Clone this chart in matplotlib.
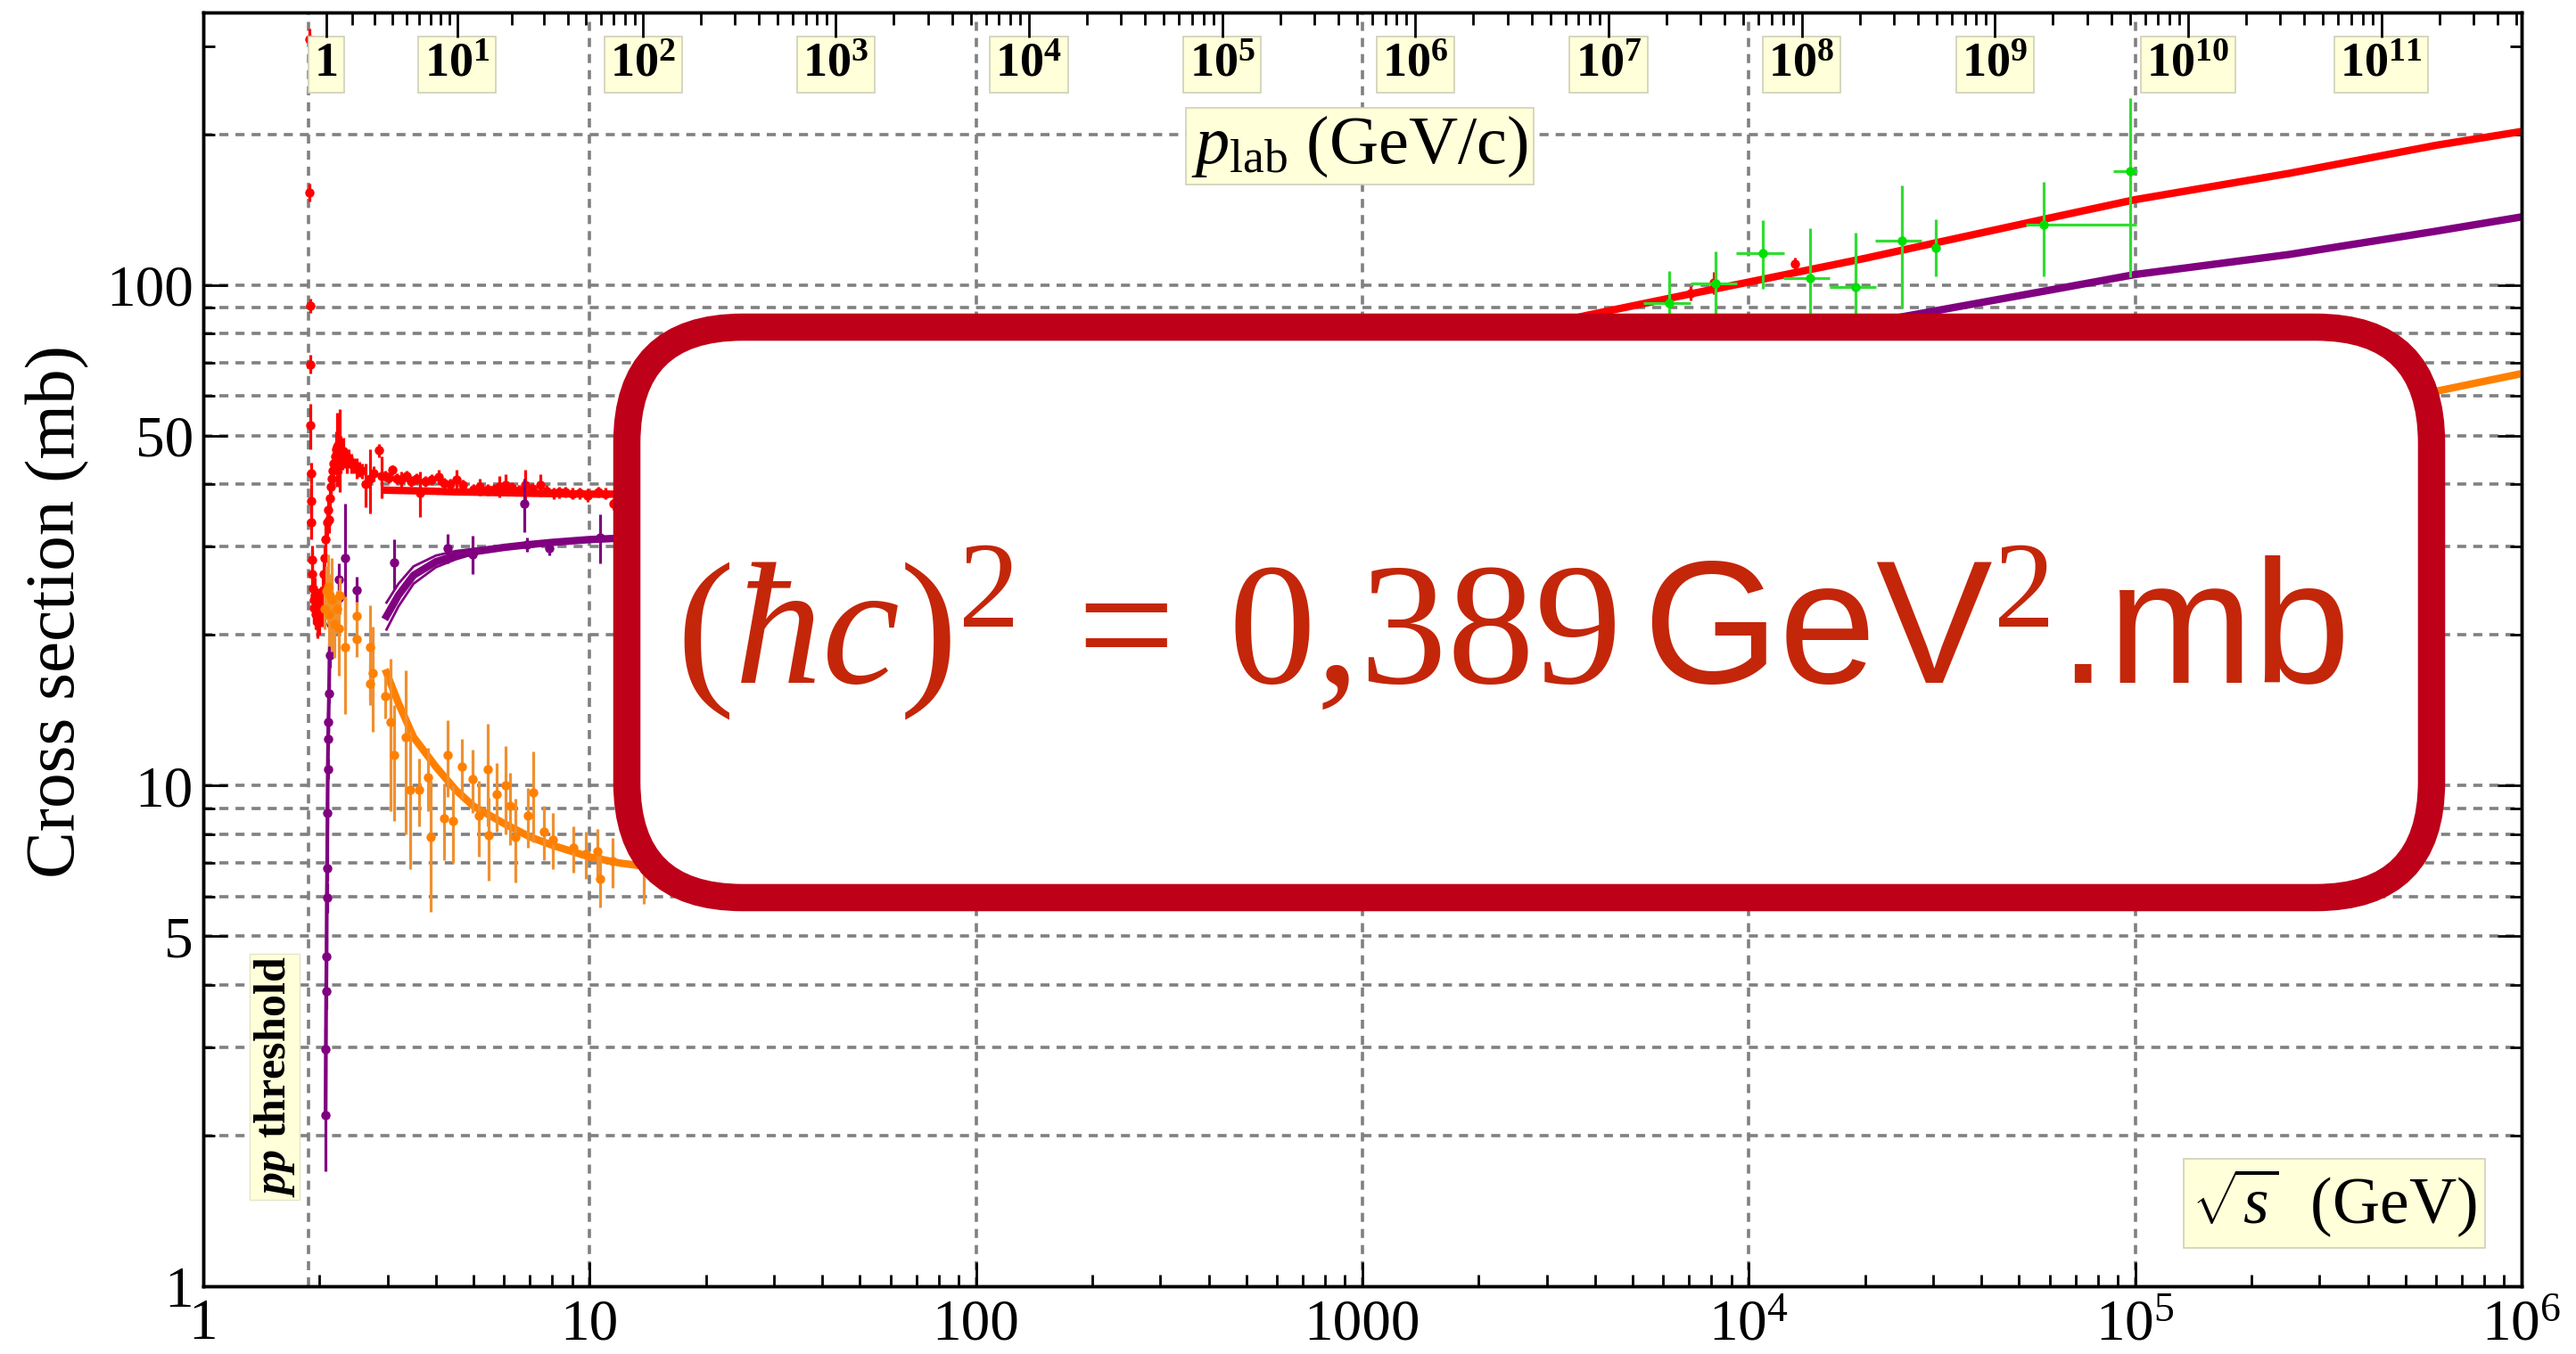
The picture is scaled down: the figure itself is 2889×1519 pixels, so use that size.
import numpy as np
import matplotlib
matplotlib.use('Agg')
import matplotlib.pyplot as plt
from matplotlib.ticker import FixedLocator, FixedFormatter, NullFormatter
from matplotlib.patches import FancyBboxPatch

plt.rcParams.update({
    'font.family': ['Liberation Serif', 'DejaVu Serif'],
    'mathtext.fontset': 'custom',
    'mathtext.rm': 'Liberation Serif',
    'mathtext.it': 'Liberation Serif:italic',
    'mathtext.bf': 'Liberation Serif:bold',
    'mathtext.sf': 'Liberation Sans',
    'mathtext.cal': 'Liberation Serif:italic:bold',
})

# ---------------- data ----------------
# pp total cross section, low energy (sqrt(s) GeV, mb, err)
red_x = [1.881, 1.884, 1.890, 1.893, 1.897, 1.900, 1.903, 1.906, 1.910, 1.915, 1.921, 1.928,
         1.936, 1.945, 1.955, 1.966, 1.977, 1.988, 2.000, 2.012, 2.025, 2.038, 2.050, 2.062,
         2.075, 2.088, 2.100, 2.113, 2.125, 2.138, 2.150, 2.163, 2.176, 2.190, 2.205, 2.220,
         2.235, 2.250, 2.268, 2.285, 2.305, 2.325, 2.350, 2.378, 2.410, 2.45, 2.49, 2.53,
         2.58, 2.63, 2.707, 2.76, 2.855, 2.90, 2.95, 3.02, 3.09, 3.17, 3.25, 3.35, 3.45,
         3.57, 3.63, 3.75, 3.9, 4.07, 4.2, 4.35, 4.53, 4.7, 5.0, 5.2, 5.45, 5.65, 5.85,
         6.07, 6.3, 6.55, 6.81, 7.1, 7.45, 7.75, 8.07, 8.35, 8.66, 9.0, 9.4, 9.9, 10.5,
         11.0, 11.5]
red_y = [310, 153, 91, 69.4, 52.4, 42.1, 37.0, 33.6, 28.2, 26.5, 24.8, 23.5,
         22.6, 24.0, 22.0, 22.5, 21.2, 22.8, 21.5, 23.5, 22.8, 24.5, 26.5, 28.5,
         31.0, 33.5, 35.5, 34.0, 37.5, 39.5, 41.0, 42.5, 44.0, 45.5, 47.0, 47.5,
         46.5, 47.5, 46.0, 45.8, 46.5, 45.0, 44.5, 45.0, 44.0, 43.5, 43.0, 42.8,
         42.5, 40.0, 41.0, 42.0, 46.7, 41.5, 41.5, 41.2, 42.7, 41.0, 40.8, 41.5, 40.5,
         41.0, 38.4, 40.5, 40.8, 41.3, 40.2, 40.0, 40.8, 39.8, 39.1, 39.5, 39.0, 39.1, 39.6,
         39.9, 39.3, 38.9, 39.8, 39.2, 39.8, 38.8, 38.4, 38.5, 38.6, 38.3, 38.4, 38.0, 38.6,
         38.3, 36.5]
red_err = [15, 6, 3, 3, 5.5, 2, 3, 2.5, 2, 3, 2, 2.5,
           1.5, 2, 1.5, 2, 1.5, 2, 1.5, 1.5, 2, 1.5, 2, 1.5,
           2, 2, 1.5, 2, 2, 2, 1.5, 2, 2.5, 3, 4, 8,
           5, 9, 4, 3, 3, 2, 2.5, 2, 2, 1.5, 2, 1.5,
           1.5, 4, 6, 1.5, 1.5, 4, 1, 1, 1, 1, 1.5, 1, 1,
           1, 4, 1, 1, 1.5, 1, 1, 2, 1, 1, 1.5, 1, 1, 2,
           2, 1, 1, 3, 1, 2, 1, 1, 1, 1, 1, 1, 1.2, 1,
           1, 1]

# pp total, LHC
red_hx = [7080, 8130, 13180]
red_hy = [96.3, 101.0, 110.0]
red_herr = [3.3, 5.0, 3.3]

# pp inelastic, low energy
pur_x = [2.072, 2.076, 2.080, 2.084, 2.088, 2.092, 2.096, 2.100, 2.104, 2.108, 2.115, 2.122,
         2.135, 2.150, 2.243, 2.243, 2.324, 2.494, 3.113, 4.282, 4.977, 6.785, 6.87, 7.86, 10.66]
pur_y = [2.2, 2.98, 3.88, 4.56, 5.97, 6.85, 8.8, 10.8, 12.4, 13.4, 15.3, 18.2,
         21.0, 23.5, 25.8, 23.7, 28.5, 24.6, 27.9, 29.8, 29.0, 36.6, 30.3, 29.8, 31.3]
pur_err = [0.5, 0.3, 0.3, 0.4, 0.4, 0.4, 0.5, 0.5, 0.6, 0.6, 0.7, 1.0,
           1.0, 1.5, 2.0, 2.0, 8.0, 1.5, 3.2, 2.0, 2.5, 4.5, 1.0, 1.0, 3.5]

# pp elastic, low energy
org_x = [2.06, 2.08, 2.10, 2.11, 2.13, 2.15, 2.18, 2.22, 2.243, 2.26, 2.324, 2.494, 2.494,
         2.70, 2.75, 2.70, 2.952, 3.057, 3.113, 3.342, 3.431, 3.618, 3.816, 3.884, 4.205,
         4.282, 4.436, 4.677, 4.977, 5.158, 5.44, 5.48, 5.737, 6.05, 6.21, 6.435, 6.91,
         7.157, 7.61, 8.03, 9.09, 9.76, 10.47, 10.66, 11.45, 13.79]
org_y = [22.5, 24.5, 25.0, 22.0, 24.0, 23.5, 21.0, 22.5, 20.6, 24.0, 18.9, 21.8, 19.6,
         18.9, 16.8, 16.0, 15.1, 13.4, 11.5, 12.5, 9.8, 9.8, 10.4, 7.9, 8.6,
         11.5, 8.5, 10.9, 10.3, 8.7, 10.8, 7.97, 9.6, 10.0, 9.1, 7.9, 8.7,
         9.7, 8.1, 7.8, 7.5, 7.3, 7.4, 6.5, 7.06, 6.8]
org_err = [2, 3, 4, 3, 2.5, 5, 3, 2, 4, 2, 5, 1.5, 1.5,
           4, 4, 1.5, 1.5, 4.5, 3, 4.5, 3, 1.5, 1.5, 2.3, 1.5,
           2, 1.5, 1.5, 1.5, 1.5, 2.5, 1.5, 1.5, 2, 1.5, 1.5, 1.2,
           2, 1, 1, 0.8, 0.8, 0.8, 0.8, 0.8, 1.0]

# cosmic-ray derived pp total cross sections
grn_x = [6231, 8185, 10870, 14390, 18900, 24950, 30500, 58100, 97200]
grn_y = [91.8, 100.7, 115.7, 103.0, 98.9, 122.7, 118.6, 131.7, 168.4]
grn_xlo = [911, 1135, 1600, 2090, 2700, 3750, 0, 6100, 9300]
grn_xhi = [819, 1115, 1460, 1810, 2430, 3050, 0, 42400, 3900]
grn_ylo = [15, 16, 17.5, 27, 28.5, 33, 14.4, 27.6, 65]
grn_yhi = [15, 16, 19, 27, 28.5, 35, 16.5, 29, 68]

# fits
fit_x = [2.98, 3.2, 3.5, 4, 4.5, 5, 6, 7, 8, 10, 12, 15, 20, 30, 50, 100, 200, 500, 1000,
         2000, 3800, 7000, 1e4, 2e4, 2.7e4, 6e4, 1e5, 2.5e5, 6e5, 1e6]
total_fit = [38.9, 38.85, 38.8, 38.7, 38.6, 38.55, 38.45, 38.35, 38.3, 38.2, 38.2, 38.3, 38.6,
             39.6, 41.5, 45.5, 51, 60, 68, 77.5, 86.9, 95.8, 101.3, 113, 118.9, 136, 148,
             167, 190, 202.5]
inel_fit = [21.8, 24.0, 26.3, 28.0, 28.8, 29.3, 29.9, 30.3, 30.6, 31.0, 31.2, 31.5, 32.0,
            32.7, 34.0, 36.5, 40.0, 46.5, 52.0, 58.0, 64.5, 71.0, 76.0, 83.7, 87.3, 97.6,
            104.9, 115.0, 128.0, 136.7]
el_fit = [16.8, 14.6, 12.5, 10.9, 9.8, 9.1, 8.4, 7.9, 7.6, 7.2, 7.0, 6.85, 6.8, 6.9, 7.4,
          8.5, 10.0, 13.0, 16.0, 19.5, 22.4, 24.8, 25.3, 29.3, 31.6, 38.4, 43.1, 52.0,
          61.3, 66.5]
# inelastic fit uncertainty band near its start
band_x = [2.98, 3.2, 3.5, 4, 4.5, 5, 6]
inel_hi = [23.2, 25.3, 27.4, 28.8, 29.4, 29.7, 30.1]
inel_lo = [20.5, 22.8, 25.3, 27.3, 28.3, 29.0, 29.7]

# axes ticks / labels
x_major = [1, 10, 100, 1000, 1e4, 1e5, 1e6]
x_labels = ['1', '10', '100', '1000', r'$10^{4}$', r'$10^{5}$', r'$10^{6}$']
y_major = [1, 5, 10, 50, 100]
y_labels = ['1', '5', '10', '50', '100']
y_minor = [2, 3, 4, 6, 7, 8, 9, 20, 30, 40, 60, 70, 80, 90, 200, 300]
grid_y = [2, 3, 4, 5, 6, 7, 8, 9, 10, 20, 30, 40, 50, 60, 70, 80, 90, 100, 200]
M_P = 0.938272
grid_x = [2 * M_P, 10, 100, 1000, 1e4, 1e5]
plab_major = [10.0 ** k for k in range(0, 12)]
plab_labels = ['1'] + [r'$\mathbf{10^{%d}}$' % k for k in range(1, 12)]


def sqrt_s(p):
    p = np.asarray(p, dtype=float)
    return np.sqrt(2 * M_P ** 2 + 2 * M_P * np.sqrt(p ** 2 + M_P ** 2))


plab_minor = [m * 10.0 ** k for k in range(0, 12) for m in range(2, 10)]
plab_minor = [p for p in plab_minor if sqrt_s(p) < 1e6]

# ---------------- figure ----------------
W, H = 2889, 1519
fig = plt.figure(figsize=(W / 100, H / 100), dpi=100)
ax = fig.add_axes([228 / W, 1 - 1443 / H, 2600 / W, 1429 / H])
ax.set_xscale('log')
ax.set_yscale('log')
ax.set_xlim(1, 1e6)
ax.set_ylim(1, 350)

gkw = dict(color='#808080', lw=2.6, ls=(0, (2.8, 2.2)), zorder=0.5)
for v in grid_y:
    ax.axhline(v, **gkw)
for v in grid_x:
    ax.axvline(v, **gkw)

RED, PUR, ORG = '#FF0000', '#800080', '#FF8000'
ekw = dict(fmt='o', ms=7.5, elinewidth=2.3, capsize=0, mew=0)

# fits
ax.plot(fit_x, inel_fit, color=PUR, lw=6, zorder=3)
ax.plot(band_x, inel_hi, color=PUR, lw=2, zorder=3)
ax.plot(band_x, inel_lo, color=PUR, lw=2, zorder=3)
ax.plot(fit_x, el_fit, color=ORG, lw=6, zorder=3)
ax.plot(fit_x, total_fit, color=RED, lw=6, zorder=3)

# data
ax.errorbar(red_x, red_y, yerr=red_err, color=RED, ecolor=RED, zorder=4, **ekw)
ax.errorbar(red_hx, red_hy, yerr=red_herr, color=RED, ecolor=RED, zorder=4, **ekw)
ax.plot(pur_x[:14], pur_y[:14], color=PUR, lw=3, zorder=5)
ax.errorbar(pur_x, pur_y, yerr=pur_err, color=PUR, ecolor=PUR, zorder=5, **ekw)
ax.errorbar(org_x, org_y, yerr=org_err, color=ORG, ecolor='#F09030', zorder=6, **ekw)
ax.errorbar(grn_x, grn_y, xerr=[grn_xlo, grn_xhi], yerr=[grn_ylo, grn_yhi],
            fmt='o', ms=7.5, mew=0, color='#00E000', ecolor='#30DD30', elinewidth=2.3,
            capsize=0, zorder=7)

for s in ax.spines.values():
    s.set_linewidth(2.5)
    s.set_color('black')

ax.xaxis.set_major_locator(FixedLocator(x_major))
ax.xaxis.set_major_formatter(FixedFormatter(x_labels))
ax.xaxis.set_minor_locator(FixedLocator([m * 10.0 ** k for k in range(0, 6) for m in range(2, 10)]))
ax.xaxis.set_minor_formatter(NullFormatter())
ax.yaxis.set_major_locator(FixedLocator(y_major))
ax.yaxis.set_major_formatter(FixedFormatter(y_labels))
ax.yaxis.set_minor_locator(FixedLocator(y_minor))
ax.yaxis.set_minor_formatter(NullFormatter())
ax.tick_params(axis='x', which='major', direction='in', length=19.5, width=2,
               labelsize=47, pad=10, top=False, bottom=True)
ax.tick_params(axis='x', which='minor', direction='in', length=9.5, width=2, top=False)
ax.tick_params(axis='y', which='major', direction='in', length=19.5, width=2,
               labelsize=47, pad=8, left=True, right=True)
ax.tick_params(axis='y', which='minor', direction='in', length=9.5, width=2,
               left=True, right=True)

# top p_lab axis
axt = ax.twiny()
axt.set_xscale('log')
axt.set_xlim(1, 1e6)
axt.xaxis.set_major_locator(FixedLocator(sqrt_s(plab_major)))
axt.xaxis.set_major_formatter(NullFormatter())
axt.xaxis.set_minor_locator(FixedLocator(sqrt_s(plab_minor)))
axt.xaxis.set_minor_formatter(NullFormatter())
axt.tick_params(axis='x', which='major', direction='in', length=20, width=2,
                top=True, bottom=False, labeltop=False)
axt.tick_params(axis='x', which='minor', direction='in', length=10, width=2,
                top=True, bottom=False)
for s in axt.spines.values():
    s.set_linewidth(2.5)

box_kw = dict(boxstyle='square,pad=0.12', fc='#FFFFD9', ec='#CFCFB8', lw=1.2)
ytop = (1443 - 72) / 1429
for p, lab in zip(plab_major, plab_labels):
    ax.text(float(sqrt_s(p)), ytop, lab, transform=ax.get_xaxis_transform(),
            ha='center', va='center', fontsize=39, fontweight='bold', bbox=box_kw,
            zorder=8)

fig.text(1525 / W, 1 - 164 / H, r'$p_{\mathrm{lab}}$ (GeV/c)', fontsize=55,
         ha='center', va='center', bbox=dict(boxstyle='square,pad=0.08', fc='#FFFFD9',
                                              ec='#CFCFB8', lw=1.2))
fig.text(2618 / W, 1 - 1350 / H, r'$\sqrt{s}$  (GeV)', fontsize=53,
         ha='center', va='center', bbox=dict(boxstyle='square,pad=0.12', fc='#FFFFD9',
                                              ec='#CFCFB8', lw=1.2))
fig.text(308 / W, 1 - 1208 / H, r'$\mathcal{pp}$ threshold', fontsize=36,
         fontweight='bold', rotation=90, ha='center', va='center',
         bbox=dict(boxstyle='square,pad=0.06', fc='#FFFFD9', ec='#E5E5C8', lw=1))
fig.text(64.5 / W, 1 - 686 / H, 'Cross section (mb)', rotation=90, fontsize=57,
         ha='center', va='center')

# overlay box
ov = fig.add_axes([0, 0, 1, 1])
ov.set_xlim(0, W)
ov.set_ylim(H, 0)
ov.axis('off')
ov.set_zorder(10)
ov.add_patch(FancyBboxPatch((703, 367), 2024, 640,
                            boxstyle='round,pad=0,rounding_size=130',
                            fc='white', ec='#BE0019', lw=22))
ov.text(1694, 766, r'$(\hbar c)^2\:=\:0{,}389\,$GeV$^2$.mb', fontsize=141,
        color='#C4260A', ha='center', va='baseline', family='Liberation Sans')

fig.savefig('out.png', dpi=100)
